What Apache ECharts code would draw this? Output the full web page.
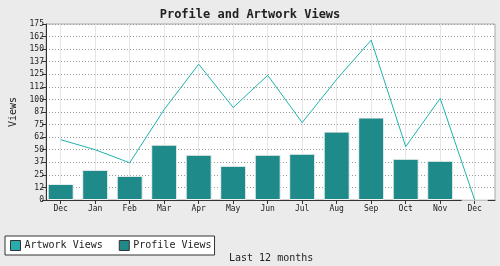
<!DOCTYPE html>
<html>
<head>
<meta charset="utf-8">
<script src="https://cdn.jsdelivr.net/npm/echarts@6/dist/echarts.min.js"></script>
<style>
html,body{margin:0;padding:0;background:#ebebeb;}
#c{width:500px;height:266px;}
</style>
</head>
<body>
<div id="c"></div>
<script>
const months = ['Dec','Jan','Feb','Mar','Apr','May','Jun','Jul','Aug','Sep','Oct','Nov','Dec'];
const artworkViews = [60, 50, 37, 90, 135, 92, 124, 77, 120, 159, 53, 101, 0];
const profileViews = [16, 30, 24, 55, 45, 34, 45, 46, 68, 82, 41, 39, 0];
const yMax = 175;
const yStep = 12.5;

const FONT = 'DejaVu Sans Mono';
const chart = echarts.init(document.getElementById('c'), null, {renderer: 'canvas'});
chart.setOption({
  backgroundColor: '#ebebeb',
  animation: false,
  title: [
    {text: 'Profile and Artwork Views', left: 'center', top: 4,
     textStyle: {fontFamily: FONT, fontSize: 12, fontWeight: 'bold', color: '#222'}},
    {text: 'Last 12 months', left: 224, top: 248,
     textStyle: {fontFamily: FONT, fontSize: 10, fontWeight: 'normal', color: '#222'}}
  ],
  legend: {
    left: 5, top: 236,
    orient: 'horizontal',
    icon: 'rect',
    itemWidth: 10, itemHeight: 10, itemGap: 16,
    padding: [4, 3, 4, 5],
    borderColor: '#333', borderWidth: 1,
    backgroundColor: '#fff',
    textStyle: {fontFamily: FONT, fontSize: 10, color: '#222', padding: [0,0,0,-1]},
    data: [
      {name: 'Artwork Views', itemStyle: {color: '#2aacac', borderColor: '#333', borderWidth: 1}},
      {name: 'Profile Views', itemStyle: {color: '#1e8a8a', borderColor: '#333', borderWidth: 1}}
    ]
  },
  grid: [
    {left: 40, right: 5, top: 24, bottom: 66, show: true, backgroundColor: '#fff', borderColor: '#aaa', borderWidth: 1},
    {left: 60.7, right: 25.3, top: 24, bottom: 66}
  ],
  xAxis: [
    {gridIndex: 0, type: 'value', min: 0, max: 1,
     axisLine: {show: true, lineStyle: {color: '#333', width: 1}},
     axisTick: {show: false}, axisLabel: {show: false}, splitLine: {show: false}},
    {gridIndex: 1, type: 'category', boundaryGap: false, data: months,
     axisLine: {show: false},
     axisTick: {show: true, length: 4, lineStyle: {color: '#333'}},
     axisLabel: {fontFamily: FONT, fontSize: 8, color: '#222', margin: 5, interval: 0},
     splitLine: {show: true, lineStyle: {color: '#e6e6e6', width: 1}}}
  ],
  yAxis: [
    {gridIndex: 0, type: 'value', min: 0, max: yMax, interval: yStep,
     name: 'Views', nameLocation: 'middle', nameGap: 28, nameRotate: 90,
     nameTextStyle: {fontFamily: FONT, fontSize: 10, color: '#222'},
     axisLine: {show: true, lineStyle: {color: '#333', width: 1}},
     axisTick: {show: true, length: 4, lineStyle: {color: '#333'}},
     axisLabel: {fontFamily: FONT, fontSize: 8, color: '#222', margin: 2,
                 formatter: v => String(Math.floor(v))},
     splitLine: {show: true, lineStyle: {color: '#999', type: [1, 2], width: 1}}},
    {gridIndex: 1, type: 'value', min: 0, max: yMax, show: false, splitLine: {show: false}}
  ],
  series: [
    {name: 'Artwork Views', type: 'line', xAxisIndex: 1, yAxisIndex: 1,
     data: artworkViews, showSymbol: false, symbol: 'none',
     itemStyle: {color: '#2aacac'},
     lineStyle: {color: '#1fb3ad', width: 1}, z: 3},
    {name: 'Profile Views', type: 'bar', xAxisIndex: 1, yAxisIndex: 1,
     data: profileViews, barWidth: 26, clip: false,
     itemStyle: {color: '#1e8a8a', borderColor: '#f2f2f2', borderWidth: 1}, z: 2}
  ]
});
</script>
</body>
</html>
